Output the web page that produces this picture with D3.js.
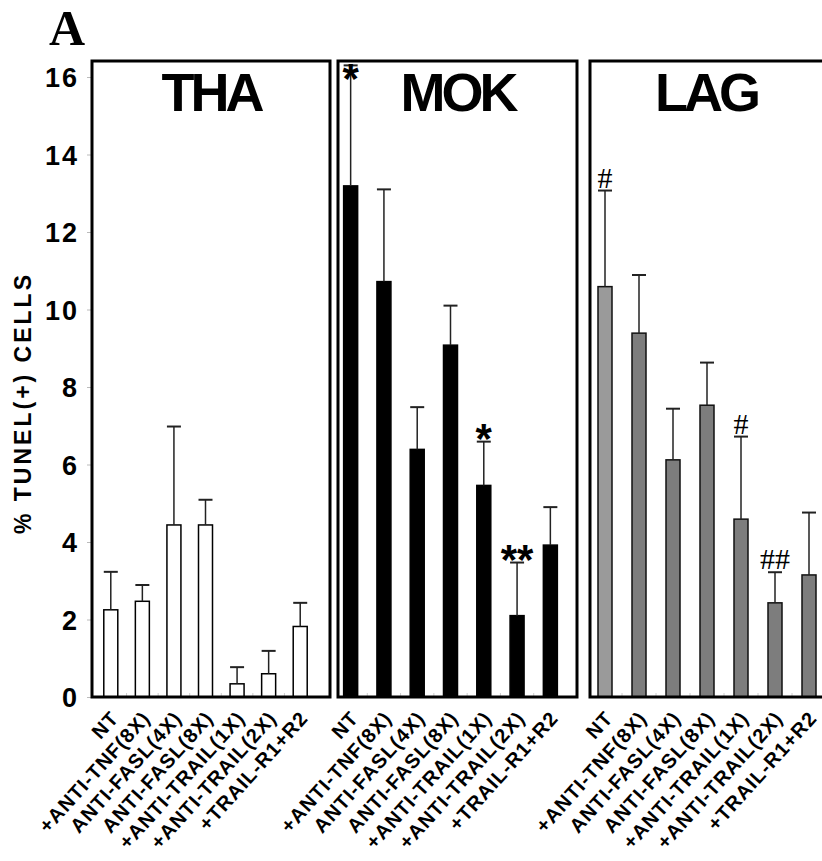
<!DOCTYPE html>
<html lang="en">
<head>
<meta charset="utf-8">
<script src="https://cdn.jsdelivr.net/npm/d3@7"></script>
<title>TUNEL(+) cells</title>
<style>
  body { margin: 0; background: #fff; }
  svg { display: block; }
</style>
</head>
<body>
<script>
var w = 822, h = 861;

// data
var categories = ["NT", "+ANTI-TNF(8X)", "ANTI-FASL(4X)", "ANTI-FASL(8X)",
                  "+ANTI-TRAIL(1X)", "+ANTI-TRAIL(2X)", "+TRAIL-R1+R2"];
var panelNames = ["THA", "MOK", "LAG"];

var thaMeans = [2.25, 2.47, 4.44, 4.44, 0.34, 0.60, 1.82];
var thaErr   = [0.98, 0.42, 2.54, 0.65, 0.43, 0.59, 0.61];
var mokMeans = [13.19, 10.72, 6.39, 9.08, 5.46, 2.10, 3.92];
var mokErr   = [3.11, 2.38, 1.09, 1.02, 1.13, 1.37, 0.98];
var lagMeans = [10.59, 9.39, 6.12, 7.53, 4.59, 2.43, 3.15];
var lagErr   = [2.48, 1.50, 1.32, 1.10, 2.13, 0.79, 1.61];

var mokMarks = ["*", "", "", "", "*", "**", ""];
var lagMarks = ["#", "", "", "", "#", "##", ""];

var yTicks = [0, 2, 4, 6, 8, 10, 12, 14, 16];

// panel layout (frame + where the bars sit)
var panels = [
  {name: panelNames[0], means: thaMeans, err: thaErr, marks: null,
   x0: 92, x1: 330, bands: [95, 316], fill: function(i) { return "#fff"; }, stroke: "#000"},
  {name: panelNames[1], means: mokMeans, err: mokErr, marks: mokMarks,
   x0: 338, x1: 577, bands: [334, 567], fill: function(i) { return "#000"; }, stroke: "#000"},
  {name: panelNames[2], means: lagMeans, err: lagErr, marks: lagMarks,
   x0: 590, x1: 860, bands: [588, 826], fill: function(i) { return i == 0 ? "#9a9a9a" : "#7d7d7d"; }, stroke: "#111"}
];

var frameTop = 61, bottom = 697;
var yScale = d3.scaleLinear().domain([0, 16]).range([bottom, 77]);

var svg = d3.select("body").append("svg")
    .attr("width", w)
    .attr("height", h);

svg.append("rect").attr("width", w).attr("height", h).attr("fill", "#fff");

// "A" panel letter
svg.append("text")
    .attr("x", 49).attr("y", 45)
    .attr("font-family", "'Liberation Serif', 'Times New Roman', serif")
    .attr("font-weight", "bold")
    .attr("font-size", "50px")
    .text("A");

// y axis label
svg.append("text")
    .attr("transform", "translate(31,403) rotate(-90)")
    .attr("text-anchor", "middle")
    .attr("font-family", "'Liberation Sans', Arial, sans-serif")
    .attr("font-weight", "bold")
    .attr("font-size", "23px")
    .attr("letter-spacing", "3px")
    .text("% TUNEL(+) CELLS");

// y axis, only on the left
var yAxis = d3.axisLeft(yScale)
    .tickValues(yTicks)
    .tickSize(5)
    .tickPadding(8);

var gy = svg.append("g")
    .attr("transform", "translate(92,0)")
    .call(yAxis);
gy.select(".domain").remove();
gy.selectAll(".tick line").attr("stroke", "#bbb");
gy.selectAll(".tick text")
    .attr("font-family", "'Liberation Sans', Arial, sans-serif")
    .attr("font-weight", "bold")
    .attr("font-size", "27px")
    .attr("letter-spacing", "2px")
    .attr("dy", "0.36em")
    .attr("fill", "#000");

panels.forEach(function(p) {
  var g = svg.append("g");

  var xScale = d3.scaleBand()
      .domain(d3.range(categories.length))
      .range(p.bands);

  var bw = 14;
  function cx(i) { return xScale(i) + xScale.bandwidth() / 2; }

  // small gray ticks between the bars
  g.selectAll("line.minor")
      .data(d3.range(1, categories.length))
      .enter()
      .append("line")
      .attr("x1", function(d) { return xScale(d); })
      .attr("x2", function(d) { return xScale(d); })
      .attr("y1", bottom - 4)
      .attr("y2", bottom)
      .attr("stroke", "#ccc");

  // bars
  g.selectAll("rect.bar")
      .data(p.means)
      .enter()
      .append("rect")
      .attr("x", function(d, i) { return cx(i) - bw / 2; })
      .attr("y", function(d) { return yScale(d); })
      .attr("width", bw)
      .attr("height", function(d) { return bottom - yScale(d); })
      .attr("fill", function(d, i) { return p.fill(i); })
      .attr("stroke", p.stroke)
      .attr("stroke-width", 1.5);

  // error bars (upper only)
  g.selectAll("line.err")
      .data(p.means)
      .enter()
      .append("line")
      .attr("x1", function(d, i) { return cx(i); })
      .attr("x2", function(d, i) { return cx(i); })
      .attr("y1", function(d) { return yScale(d); })
      .attr("y2", function(d, i) { return yScale(d + p.err[i]); })
      .attr("stroke", "#222")
      .attr("stroke-width", 1.5);

  g.selectAll("line.cap")
      .data(p.means)
      .enter()
      .append("line")
      .attr("x1", function(d, i) { return cx(i) - 7; })
      .attr("x2", function(d, i) { return cx(i) + 7; })
      .attr("y1", function(d, i) { return yScale(d + p.err[i]); })
      .attr("y2", function(d, i) { return yScale(d + p.err[i]); })
      .attr("stroke", "#222")
      .attr("stroke-width", 2);

  // significance marks
  if (p.marks) {
    g.selectAll("text.mark")
        .data(p.marks)
        .enter()
        .append("text")
        .attr("x", function(d, i) { return cx(i); })
        .attr("y", function(d, i) {
          var yc = yScale(p.means[i] + p.err[i]);
          if (d.charAt(0) == "*") return Math.max(yc + 11, frameTop + 32);
          return yc - 3;
        })
        .attr("text-anchor", "middle")
        .attr("font-family", function(d) {
          return d.charAt(0) == "*" ? "'Liberation Sans', Arial, sans-serif" : "'Liberation Serif', 'Times New Roman', serif";
        })
        .attr("font-weight", function(d) { return d.charAt(0) == "*" ? "bold" : "normal"; })
        .attr("font-size", function(d) { return d.charAt(0) == "*" ? "42px" : "30px"; })
        .text(function(d) { return d; });
  }

  // frame
  g.append("rect")
      .attr("x", p.x0)
      .attr("y", frameTop)
      .attr("width", p.x1 - p.x0)
      .attr("height", bottom - frameTop)
      .attr("fill", "none")
      .attr("stroke", "#000")
      .attr("stroke-width", 3);

  // panel title
  g.append("text")
      .attr("x", (p.x0 + Math.min(p.x1, 822)) / 2)
      .attr("y", 111)
      .attr("text-anchor", "middle")
      .attr("font-family", "'Liberation Sans', Arial, sans-serif")
      .attr("font-weight", "bold")
      .attr("font-size", "54px")
      .attr("letter-spacing", "-4px")
      .text(p.name);

  // category labels
  g.selectAll("text.cat")
      .data(categories)
      .enter()
      .append("text")
      .attr("transform", function(d, i) {
        return "translate(" + (cx(i) + 9) + "," + (bottom + 22) + ") rotate(-48)";
      })
      .attr("text-anchor", "end")
      .attr("font-family", "'Liberation Sans', Arial, sans-serif")
      .attr("font-weight", "bold")
      .attr("font-size", "20px")
      .attr("letter-spacing", "1px")
      .text(function(d) { return d; });
});
</script>
</body>
</html>
